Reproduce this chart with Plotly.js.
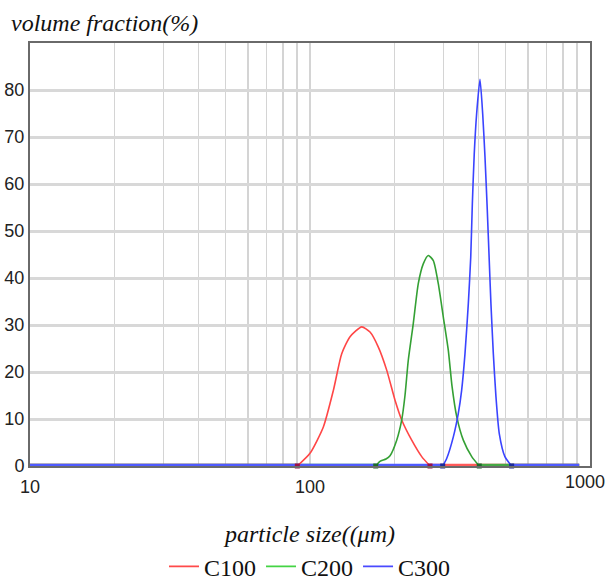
<!DOCTYPE html>
<html>
<head>
<meta charset="utf-8">
<script src="https://cdn.plot.ly/plotly-3.0.1.min.js"></script>
<style>html,body{margin:0;padding:0;background:#fff;}#chart{width:607px;height:581px;}</style>
</head>
<body>
<div id="chart"></div>
<script>
// ---- data ----
var seriesNames = ['C100', 'C200', 'C300'];

var c100Size = [10, 90.1, 100, 111.6, 121.2, 129.8, 139, 153, 163.8, 175.4, 187.9, 201.2, 212.6, 230.8, 250.6, 268.3, 915];
var c100Vol  = [0,  0,    2.7, 8.3,   16.1,  23.9,  27.5, 29.6, 28.5, 25.3, 20.4, 14.0, 9.8, 5.5, 2.0, 0, 0];

var c200Size = [10, 171.7, 177.8, 186.8, 193.1, 204.0, 212.6, 218.4, 224.4, 233.8, 243.6, 253.8, 264.5, 275.7, 287.2, 299.3, 311.9, 321.5, 334.2, 352.8, 378.1, 402.3, 915];
var c200Vol  = [0,  0,     1.0,   1.5,   2.2,   5.5,   9.8,   15.0,  22.5,  30.3,  38.8,  43.0,  44.8,  43.7,  38.8,  31.7,  24.6,  17.0,  10.5,  5.5,   2.0,   0,     0];

var c300Size = [10, 297.8, 307.7, 325, 338.6, 348, 357.7, 367.6, 375, 380, 386, 393.6, 404.6, 413.8, 421.7, 429.7, 436.7, 442.8, 451.6, 461.5, 474.2, 496.7, 525, 915];
var c300Vol  = [0,  0,     1.6,   6.2, 11.2,  16.1, 23.9,  34.5,  44.4, 55.8, 66.4, 74.9, 82.3,  74.9,  65.7,  54.4,  43.7,  34.5,  23.9,  14.7,  6.9,   2.0,   0,   0];

var xTickVals = [10, 20, 30, 40, 50, 60, 70, 80, 90, 100, 200, 300, 400, 500, 600, 700, 800, 900, 1000];
var xTickText = ['10', '', '', '', '', '', '', '', '', '100', '', '', '', '', '', '', '', '', ''];
var xLastLabel = '1000';
var yTickVals = [0, 10, 20, 30, 40, 50, 60, 70, 80];

// ---- styles ----
var curveColors  = ['#ff4646', '#34a034', '#3a44ff'];
var baseColors   = ['#ff5a5a', '#45a845', '#4f5bff'];
var markerColors = ['#9a1048', '#1d6b2a', '#1a2a9a'];
var legendColors = ['#ff4a4a', '#44d444', '#4a4aff'];

var allSizes = [c100Size, c200Size, c300Size];
var allVols  = [c100Vol, c200Vol, c300Vol];

function splitSeries(xs, ys) {
  var first = -1, last = -1;
  for (var i = 0; i < ys.length; i++) { if (ys[i] !== 0) { if (first < 0) first = i; last = i; } }
  var s = first - 1, e = last + 1;
  return {
    base: { x: xs.slice(0, s + 1).concat([null]).concat(xs.slice(e)),
            y: ys.slice(0, s + 1).concat([null]).concat(ys.slice(e)) },
    curve: { x: xs.slice(s, e + 1), y: ys.slice(s, e + 1) },
    ends: { x: [xs[s], xs[e]], y: [ys[s], ys[e]] }
  };
}

var parts = allSizes.map(function (xs, k) { return splitSeries(xs, allVols[k]); });
var traces = [];
parts.forEach(function (p, k) {
  traces.push({ x: p.base.x, y: p.base.y, mode: 'lines', type: 'scatter', showlegend: false,
    hoverinfo: 'skip', cliponaxis: false, line: { color: baseColors[k], width: 4.5 }, connectgaps: false });
});
parts.forEach(function (p, k) {
  traces.push({ x: p.curve.x, y: p.curve.y, mode: 'lines', type: 'scatter', showlegend: false,
    name: seriesNames[k], cliponaxis: false, line: { color: curveColors[k], width: 1.6, shape: 'spline', smoothing: 0.6 } });
});
parts.forEach(function (p, k) {
  traces.push({ x: p.ends.x, y: p.ends.y, mode: 'markers', type: 'scatter', showlegend: false,
    cliponaxis: false, hoverinfo: 'skip', marker: { symbol: 'square', size: 5, color: markerColors[k] } });
});
seriesNames.forEach(function (n, k) {
  traces.push({ x: [null], y: [null], mode: 'lines', type: 'scatter', name: n, showlegend: true,
    line: { color: legendColors[k], width: 1.6 } });
});

var tickFont = { family: '"Liberation Sans", Arial, sans-serif', size: 18, color: '#222' };
var titleFont = { family: '"Liberation Serif", "Times New Roman", serif', size: 24, color: '#111' };

var layout = {
  width: 607, height: 581,
  margin: { l: 30, r: 17, t: 43, b: 115, autoexpand: false },
  paper_bgcolor: '#fff', plot_bgcolor: '#fff',
  showlegend: true,
  legend: { orientation: 'h', x: 0.5, xanchor: 'center', y: -0.185, yanchor: 'top',
    font: { family: '"Liberation Serif", "Times New Roman", serif', size: 24, color: '#111' },
    itemwidth: 30, tracegroupgap: 0, bgcolor: 'rgba(0,0,0,0)' },
  xaxis: {
    type: 'log', range: [1, 3], tickmode: 'array', tickvals: xTickVals, ticktext: xTickText,
    showgrid: true, gridcolor: '#d4d4d4', gridwidth: 1.5, automargin: false,
    showline: true, mirror: true, linecolor: '#6a6a6a', linewidth: 2,
    ticks: '', tickfont: tickFont, zeroline: false, ticklabelstandoff: 3,
    title: { text: '<i>particle size((μm)</i>', font: titleFont, standoff: 30 }
  },
  yaxis: {
    range: [0, 90], tickmode: 'array', tickvals: yTickVals, automargin: false,
    showgrid: true, gridcolor: '#d8d8d8', gridwidth: 3,
    showline: true, mirror: true, linecolor: '#6a6a6a', linewidth: 2,
    ticks: '', tickfont: tickFont, zeroline: false, ticklabelstandoff: 0
  },
  annotations: [{
    text: '<i>volume fraction(%)</i>', xref: 'paper', yref: 'paper', x: -0.038, y: 1.0,
    xanchor: 'left', yanchor: 'bottom', yshift: 5, showarrow: false, font: titleFont
  }, {
    text: xLastLabel, xref: 'paper', yref: 'paper', x: 1, y: 0, xanchor: 'right', yanchor: 'top',
    xshift: 17, yshift: -4, showarrow: false, font: tickFont
  }]
};

Plotly.newPlot('chart', traces, layout, { displayModeBar: false, staticPlot: true });
</script>
</body>
</html>
